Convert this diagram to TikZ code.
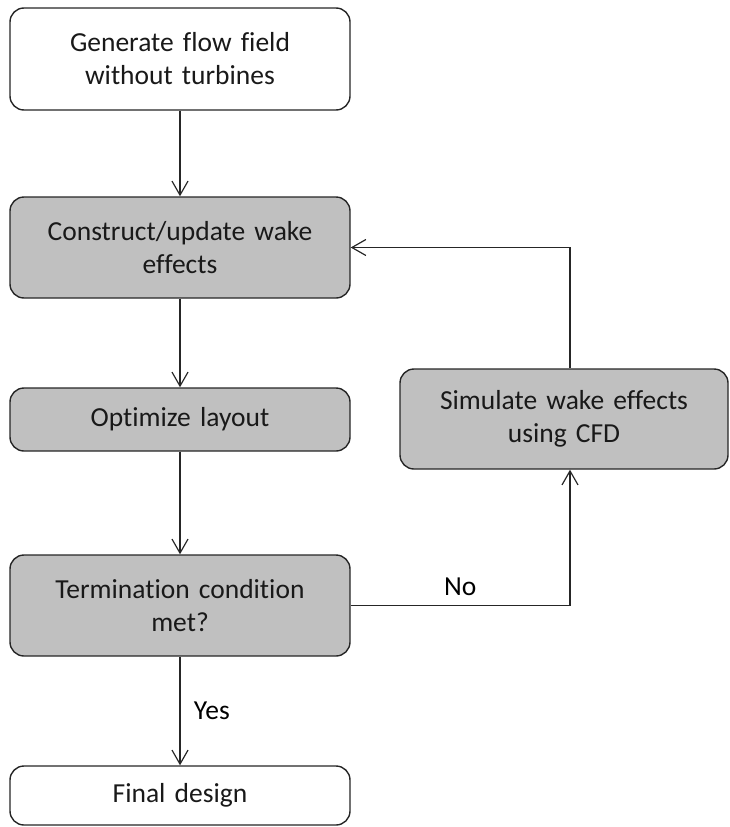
\documentclass[tikz,border=0pt]{standalone}
\usepackage{fontspec}
\setmainfont{Carlito}[Ligatures=NoCommon]
\usepackage{tikz}
\usetikzlibrary{shapes, arrows.meta, positioning}
\definecolor{boxgrey}{RGB}{192,192,192}
\definecolor{edgegrey}{RGB}{38,38,38}
\tikzset{
    % plain boxes for start and end, grey ones for the loop
    startend/.style = {rectangle, rounded corners=14pt, draw=edgegrey, line width=1.4pt, fill=white, minimum width=340pt, text width=320pt, align=center, text=black!90},
    process/.style = {startend, fill=boxgrey},
    arrow/.style = {line width=1.2pt, draw=edgegrey, -{Straight Barb[length=14pt, width=16pt, line width=1.2pt]}}
}

\begin{document}
\begin{tikzpicture}[x=1pt, y=-1pt, every node/.style={font=\fontsize{27.5}{33}\selectfont}]
\useasboundingbox (0,0) rectangle (730,827);

\node[startend, minimum height=102pt] (gen) at (180,59) {Generate flow field\\without turbines};
\node[process, minimum height=101pt, below=85.6pt of gen] (construct) {Construct/update wake\\effects};
\node[process, minimum height=63pt, below=88.6pt of construct] (optimize) {Optimize layout};
\node[process, minimum height=101pt, below=102.6pt of optimize] (term) {Termination condition\\met?};
\node[startend, minimum height=59pt, below=108.6pt of term] (final) {Final design};
\node[process, minimum width=328pt, text width=310pt, minimum height=100pt] (simulate) at (564,419) {Simulate wake effects\\using CFD};

\draw[arrow] (gen) -- (construct);
\draw[arrow] (construct) -- (optimize);
\draw[arrow] (optimize) -- (term);
\draw[arrow] (term) -- node[midway, right=10pt] {Yes} (final);
\draw[arrow] (term.east) -| node[pos=0.25, above=6pt] {No} ([xshift=6pt]simulate.south);
\draw[arrow] ([xshift=6pt]simulate.north) |- (construct.east);

\end{tikzpicture}
\end{document}
